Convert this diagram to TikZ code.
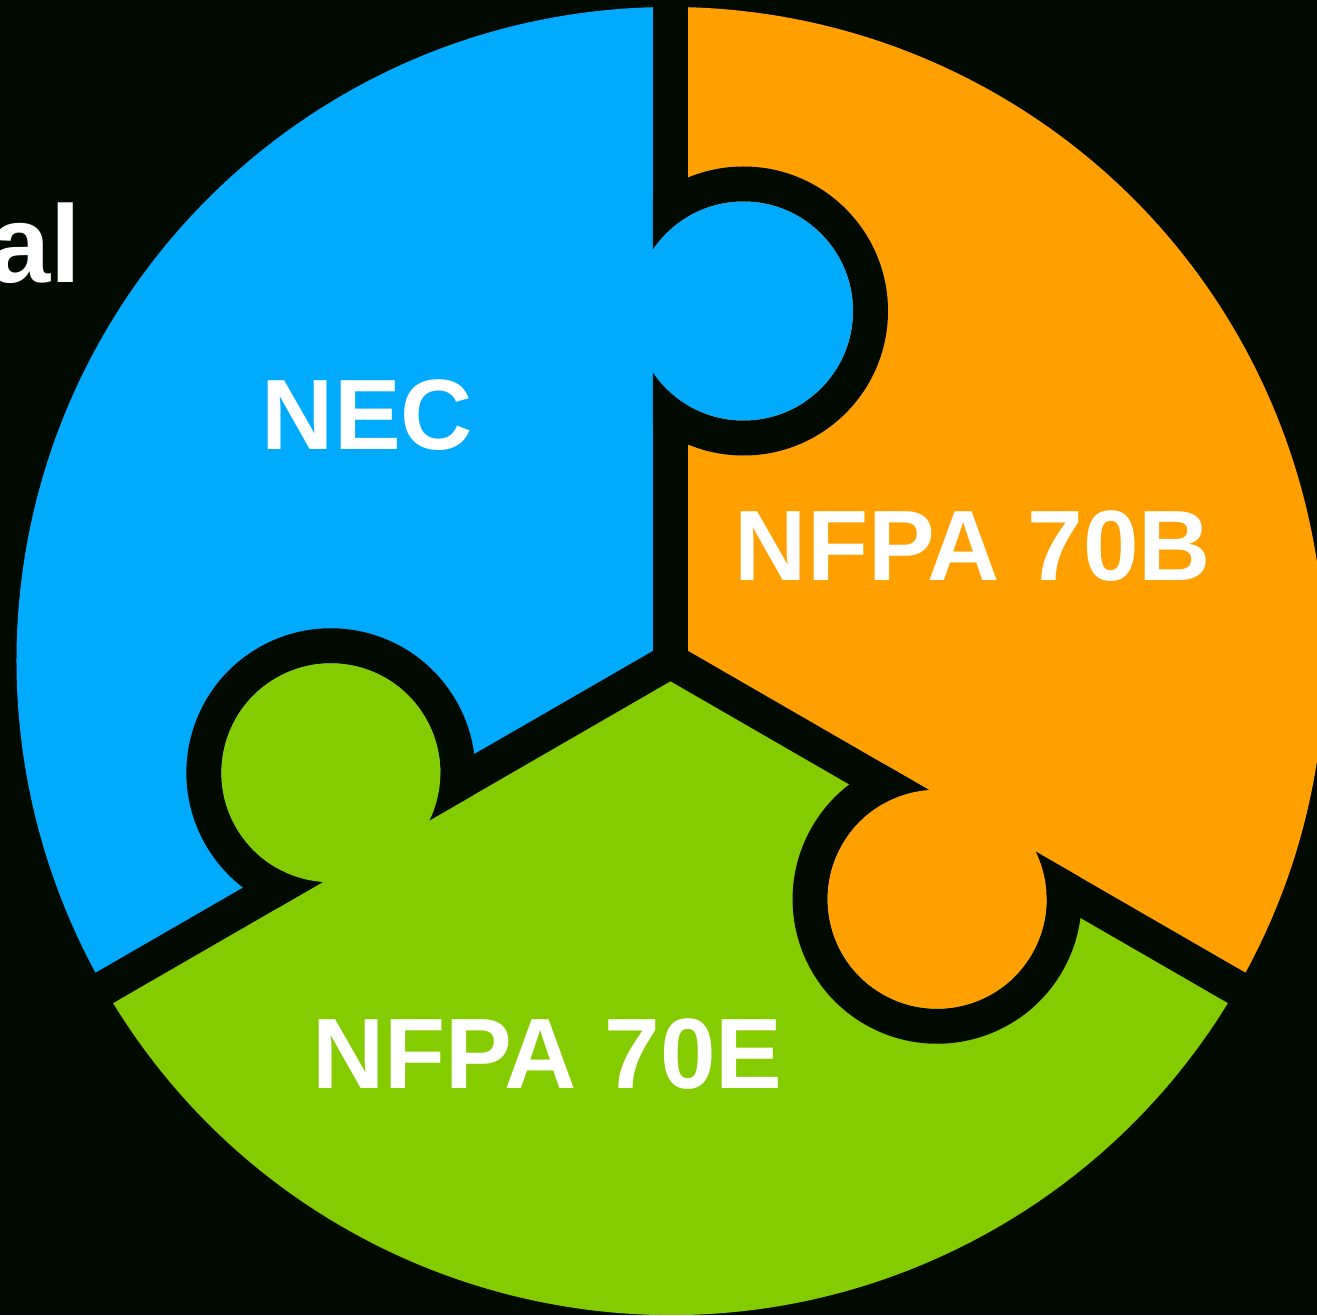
\documentclass[tikz,border=0pt]{standalone}
\usepackage{fontspec}
\setmainfont{Liberation Sans}
\definecolor{bg}{RGB}{0,10,0}
\definecolor{pblue}{RGB}{0,170,255}
\definecolor{porange}{RGB}{255,160,0}
\definecolor{pgreen}{RGB}{132,204,0}
\tikzset{
  gapline/.style={draw=bg, line width=35pt, line cap=butt},
  tabring/.style={draw=bg, line width=35pt},
  pzlabel/.style={text=white, font=\bfseries\fontsize{100}{102}\selectfont, inner sep=0pt, anchor=base},
}
\begin{document}
\begin{tikzpicture}[x=1pt,y=1pt]
\useasboundingbox (-670.5,-654) rectangle (646.5,661);
\fill[bg] (-670.5,-654) rectangle (646.5,661);
\coordinate (C) at (0,0);
% sectors
\fill[pblue] (C) -- (90:654) arc[start angle=90,end angle=210,radius=654] -- cycle;
\fill[pgreen] (C) -- (210:654) arc[start angle=210,end angle=330,radius=654] -- cycle;
\fill[porange] (C) -- (-30:654) arc[start angle=-30,end angle=90,radius=654] -- cycle;
% gaps
\foreach \a in {90,210,330} {\coordinate (e\a) at (\a:662); \draw[gapline] (C) -- (e\a);}
\fill[bg] (C) circle[radius=17.5];
% tabs
\foreach \r/\c in {0/pblue,120/pgreen,240/porange}{
  \begin{scope}[rotate=\r]
    \coordinate (t\r) at (73,350);
    \begin{scope}
      \clip (-17.5,150) rectangle (250,550);
      \draw[tabring] (t\r) circle[radius=127];
    \end{scope}
    \fill[\c] (t\r) circle[radius=109.5];
  \end{scope}
}
% labels
\node[pzlabel] (nec) at (-303,212) {NEC};
\node[pzlabel] (b) at (302.5,81) {NFPA 70B};
\node[pzlabel] (e) at (-123,-427) {NFPA 70E};
\node[text=white, font=\bfseries\fontsize{110}{112}\selectfont, inner sep=0pt, anchor=base east] (al) at (-589.5,378) {al};
\end{tikzpicture}
\end{document}
